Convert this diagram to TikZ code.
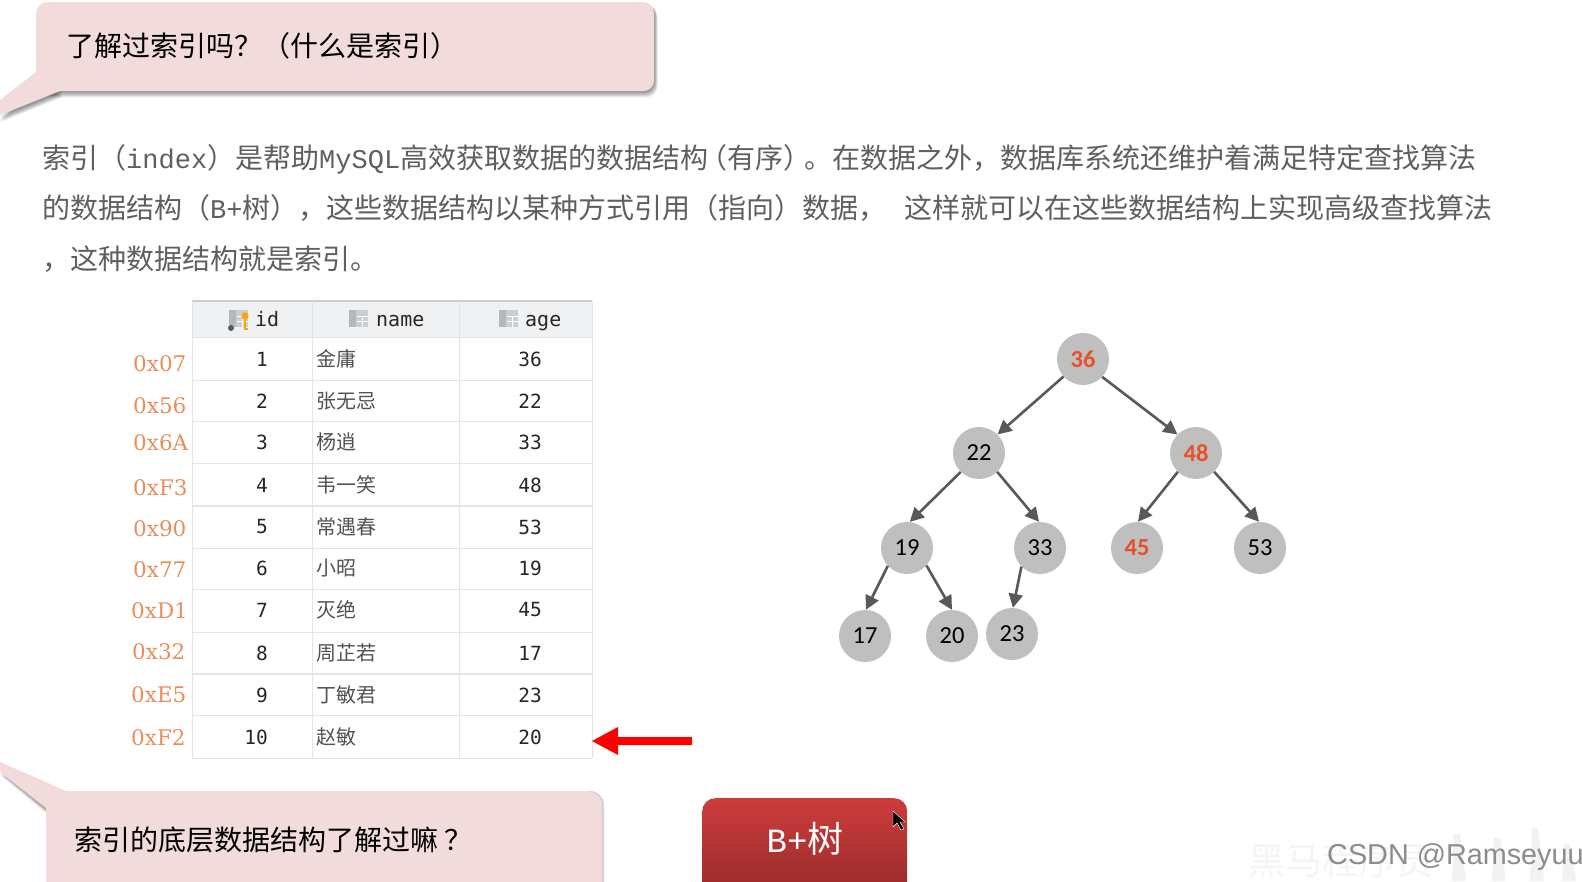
\documentclass[tikz,border=0pt]{standalone}
\usepackage{fontspec}
\setmainfont{Noto Sans CJK SC}
\newfontfamily\monof{Liberation Mono}
\newfontfamily\tabf{DejaVu Sans Mono}
\newfontfamily\slabf{DejaVu Serif}
\newfontfamily\calf{Carlito}
\newfontfamily\arialf{Liberation Sans}
\usetikzlibrary{arrows.meta}
\definecolor{pinkbox}{HTML}{F2DBDB}
\definecolor{paragray}{HTML}{5F5F5F}
\definecolor{orangelab}{HTML}{E88F5C}
\definecolor{treegray}{HTML}{BFBFBF}
\definecolor{treeedge}{HTML}{595959}
\definecolor{treered}{HTML}{E8502A}
\definecolor{gridc}{HTML}{E4E5E7}
\definecolor{headc}{HTML}{F0F1F3}
\definecolor{icong}{HTML}{B4B8BE}
\tikzset{
  x=1pt,y=-1pt,
  callout/.style={rounded corners=11pt,fill=pinkbox,inner sep=0pt},
  calltext/.style={anchor=west,inner sep=0pt,text=black,font=\fontsize{28}{30}\selectfont},
  para/.style={anchor=west,inner sep=0pt,text=paragray,font=\fontsize{28}{30}\selectfont},
  addr/.style={anchor=west,inner sep=0pt,text=orangelab,font=\slabf\fontsize{21.5}{24}\selectfont},
  cellnum/.style={inner sep=0pt,text=black!85,font=\tabf\fontsize{19.5}{22}\selectfont},
  cellcjk/.style={anchor=west,inner sep=0pt,text=black!68,font=\fontsize{20}{22}\selectfont},
  headtxt/.style={anchor=base west,inner sep=0pt,text=black!85,font=\tabf\fontsize{20}{22}\selectfont},
  treenode/.style={circle,fill=treegray,minimum size=52pt,inner sep=0pt,text=black,font=\calf\fontsize{24.5}{26}\selectfont},
  treehot/.style={treenode,text=treered,font=\calf\bfseries\fontsize{24.5}{26}\selectfont},
  treeline/.style={draw=treeedge,line width=2.6pt,-{Triangle[length=14pt,width=14pt]}},
  gridline/.style={draw=gridc,line width=1pt},
  gridbold/.style={draw=gridc,line width=2pt},
}
\newcommand{\mn}[1]{{\monof\fontsize{27}{30}\selectfont #1}}
\newcommand{\gridicon}[2]{%
  \fill[icong] (#1,#2) rectangle ++(7,17);
  \fill[icong!70] (#1+7,#2) rectangle ++(12,17);
  \draw[white,line width=.8pt] (#1+8,#2+6) -- ++(11,0) (#1+8,#2+11) -- ++(11,0) (#1+13,#2+6) -- ++(0,11);
}
\begin{document}
\begin{tikzpicture}
\clip (0,0) rectangle (1582,881);
\fill[white] (0,0) rectangle (1582,881);

% ---- first callout
\foreach \o in {1,2,3,4,5,6,7}{
  \fill[black,opacity=.07,rounded corners=11pt] (36+\o*.5,2+\o*.6) rectangle (654+\o*.5,91+\o*.9);
  \fill[black,opacity=.07] (0,116+\o*.9) -- (62,91+\o*.9) -- (40,85) -- cycle;
}
\node[callout,minimum width=618pt,minimum height=89pt,anchor=north west] (c1) at (36,2) {};
\coordinate (c1a) at (36,72);
\coordinate (c1b) at (0,100);
\coordinate (c1c) at (0,115);
\coordinate (c1d) at (60,91);
\fill[pinkbox] (c1a) -- (c1b) -- (c1c) -- (c1d) -- (60,70) -- cycle;
\node[calltext] (c1t) at (66,46) {了解过索引吗？（什么是索引）};

% ---- paragraph
\node[para] (p1) at (42,159) {索引（\mn{index}）是帮助\mn{MySQL}高效获取数据的数据结构\hspace{-9pt}（有序）\hspace{-7pt}。在数据之外，数据库系统还维护着满足特定查找算法};
\node[para] (p2) at (42,208) {的数据结构（\mn{B+}树），这些数据结构以某种方式引用（指向）数据，\hspace{18pt}这样就可以在这些数据结构上实现高级查找算法};
\node[para] (p3) at (42,259) {，这种数据结构就是索引。};

% ---- table
\fill[headc] (192,301) rectangle (592,337);
\draw[draw=gridc!90!black,line width=1.5pt] (192,301) -- (592,301);
\foreach \yy in {337,380,421,463,548,589,632,715,758}{\draw[gridline] (192,\yy) -- (592,\yy);}
\foreach \yy in {506,674}{\draw[gridbold] (192,\yy) -- (592,\yy);}
\foreach \xx in {192,312,459,592}{\draw[gridline] (\xx,301) -- (\xx,758);}
% header icons
\gridicon{229}{310}
\fill[black!65] (231,328) circle (3pt);
\fill[orange!70!yellow] (245,316) circle (3.6pt);
\draw[orange!70!yellow,line width=1.8pt] (245,318) -- (245,329) -- (248,329);
\gridicon{349}{310}
\gridicon{499}{310}
\node[headtxt] (hid) at (255,326) {id};
\node[headtxt] (hname) at (376,326) {name};
\node[headtxt] (hage) at (525,326) {age};

\foreach \i/\nm/\ag/\yc/\ad/\ya/\xa/\xn in {
  1/金庸/36/359/0x07/364/133/262,
  2/张无忌/22/401/0x56/406/133/262,
  3/杨逍/33/442/0x6A/443/133/262,
  4/韦一笑/48/485/0xF3/488/133/262,
  5/常遇春/53/527/0x90/529/133/262,
  6/小昭/19/568/0x77/570/133/262,
  7/灭绝/45/610/0xD1/611/131/262,
  8/周芷若/17/653/0x32/652/132/262,
  9/丁敏君/23/695/0xE5/695/131/262,
  10/赵敏/20/737/0xF2/738/131/256}{
  \node[cellnum] (id\i) at (\xn,\yc) {\i};
  \node[cellcjk] (nm\i) at (316,\yc) {\nm};
  \node[cellnum] (ag\i) at (530,\yc) {\ag};
  \node[addr] (ad\i) at (\xa,\ya) {\ad};
}

% ---- red arrow
\fill[red] (592,741) -- (618,727) -- (618,737) -- (692,737) -- (692,745) -- (618,745) -- (618,755) -- cycle;

% ---- tree
\node[treehot] (n36) at (1083,359) {36};
\node[treenode] (n22) at (979,453) {22};
\node[treehot] (n48) at (1196,453) {48};
\node[treenode] (n19) at (907,548) {19};
\node[treenode] (n33) at (1040,548) {33};
\node[treehot] (n45) at (1137,548) {45};
\node[treenode] (n53) at (1260,548) {53};
\node[treenode] (n17) at (865,636) {17};
\node[treenode] (n20) at (952,636) {20};
\node[treenode] (n23) at (1012,634) {23};
\draw[treeline] (n36.222) -- (n22.45);
\draw[treeline] (n36.317) -- (n48.135);
\draw[treeline] (n22.226) -- (n19.84);
\draw[treeline] (n22.314) -- (n33.92);
\draw[treeline] (n48.226) -- (n45.88);
\draw[treeline] (n48.314) -- (n53.92);
\draw[treeline] (n19.223) -- (n17.88);
\draw[treeline] (n19.318) -- (n20.90);
\draw[treeline] (n33.225) -- (n23.88);

% ---- second callout
\foreach \o in {1,2,3,4,5}{
  \fill[black,opacity=.05,rounded corners=14pt] (46+\o*.5,791) rectangle (602+\o*.5,900);
  \fill[black,opacity=.09] (0,770+\o) -- (46,808+\o) -- (60,800) -- cycle;
}
\node[callout,rounded corners=14pt,minimum width=556pt,minimum height=110pt,anchor=north west] (c2) at (46,791) {};
\coordinate (c2a) at (0,762);
\coordinate (c2b) at (66,791);
\coordinate (c2c) at (46,808);
\coordinate (c2d) at (0,772);
\fill[pinkbox] (c2a) -- (c2b) -- (70,815) -- (c2c) -- (c2d) -- cycle;
\node[calltext] (c2t) at (74,840) {索引的底层数据结构了解过嘛\hspace{6pt}？};

% ---- button
\node[rounded corners=13pt,minimum width=205pt,minimum height=100pt,anchor=north west,top color={rgb,255:red,205;green,60;blue,60},bottom color={rgb,255:red,150;green,42;blue,42},inner sep=0pt] (btn) at (702,798) {};
\node[inner sep=0pt,text=white,font=\fontsize{36}{38}\selectfont] (btnt) at (805,839) {{\monof\fontsize{34}{36}\selectfont B+}树};
\fill[black,draw=white,line width=.4pt] (893,811) -- (893,827) -- (897,823) -- (901,830) -- (904,829) -- (900,822) -- (905,822) -- cycle;

% ---- watermark
\node[anchor=west,inner sep=0pt,text=black!4,font=\fontsize{37}{40}\selectfont] (wm2) at (1248,860) {黑马程序员};
\foreach \xx/\tt in {1452/6,1492/10,1530/0,1562/16}{
  \fill[black!5] (\xx,881) -- (\xx+2,828+\tt) -- (\xx+8,828+\tt) -- (\xx+14,881) -- cycle;
}
\node[anchor=west,inner sep=0pt,text=black!45,font=\arialf\fontsize{28.8}{33}\selectfont] (wm1) at (1327,857) {CSDN @Ramseyuu};
\end{tikzpicture}
\end{document}
